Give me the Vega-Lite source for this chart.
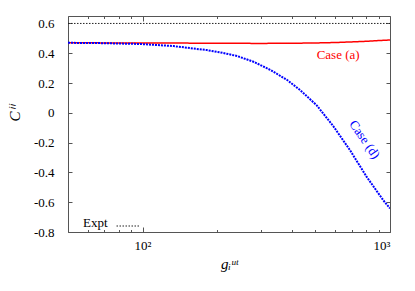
{
  "$schema": "https://vega.github.io/schema/vega-lite/v6.json",
  "width": 322,
  "height": 216,
  "autosize": {"type": "none"},
  "padding": {"left": 68, "top": 16, "right": 25, "bottom": 59},
  "background": "white",
  "config": {
    "view": {"stroke": "#555555", "strokeWidth": 1},
    "font": "Liberation Serif",
    "axis": {
      "domain": false,
      "grid": false,
      "tickColor": "#555555",
      "labelFont": "Liberation Serif",
      "labelFontSize": 13,
      "labelColor": "black",
      "titleFont": "Liberation Serif",
      "titleColor": "black",
      "titleFontWeight": "normal"
    }
  },
  "datasets": {
    "curves": [
      {"g": 50, "C": 0.6, "series": "Expt"},
      {"g": 1000, "C": 0.6, "series": "Expt"},
      {"g": 50, "C": 0.470, "series": "Case (a)"},
      {"g": 100, "C": 0.469, "series": "Case (a)"},
      {"g": 150, "C": 0.468, "series": "Case (a)"},
      {"g": 200, "C": 0.467, "series": "Case (a)"},
      {"g": 300, "C": 0.466, "series": "Case (a)"},
      {"g": 400, "C": 0.467, "series": "Case (a)"},
      {"g": 500, "C": 0.469, "series": "Case (a)"},
      {"g": 600, "C": 0.472, "series": "Case (a)"},
      {"g": 700, "C": 0.476, "series": "Case (a)"},
      {"g": 800, "C": 0.480, "series": "Case (a)"},
      {"g": 900, "C": 0.485, "series": "Case (a)"},
      {"g": 1000, "C": 0.489, "series": "Case (a)"},
      {"g": 50, "C": 0.470, "series": "Case (d)"},
      {"g": 67.5, "C": 0.468, "series": "Case (d)"},
      {"g": 97.9, "C": 0.462, "series": "Case (d)"},
      {"g": 133.4, "C": 0.448, "series": "Case (d)"},
      {"g": 182, "C": 0.421, "series": "Case (d)"},
      {"g": 206, "C": 0.406, "series": "Case (d)"},
      {"g": 240.5, "C": 0.382, "series": "Case (d)"},
      {"g": 280.7, "C": 0.343, "series": "Case (d)"},
      {"g": 327.7, "C": 0.289, "series": "Case (d)"},
      {"g": 382.8, "C": 0.222, "series": "Case (d)"},
      {"g": 433.2, "C": 0.153, "series": "Case (d)"},
      {"g": 505.9, "C": 0.050, "series": "Case (d)"},
      {"g": 590.4, "C": -0.090, "series": "Case (d)"},
      {"g": 689.4, "C": -0.251, "series": "Case (d)"},
      {"g": 805.1, "C": -0.430, "series": "Case (d)"},
      {"g": 939.6, "C": -0.587, "series": "Case (d)"},
      {"g": 1000, "C": -0.642, "series": "Case (d)"}
    ],
    "labels": [
      {"g": 617, "C": 0.388, "label": "Case (a)", "series": "Case (a)"},
      {"g": 789, "C": -0.18, "label": "Case (d)", "series": "Case (d)"}
    ]
  },
  "layer": [
    {
      "data": {"name": "curves"},
      "mark": {"type": "line", "clip": true},
      "encoding": {
        "x": {
          "field": "g",
          "type": "quantitative",
          "scale": {"type": "log", "domain": [50, 1000], "nice": false},
          "axis": {
            "orient": "bottom",
            "values": [50, 60, 70, 80, 90, 100, 200, 300, 400, 500, 600, 700, 800, 900, 1000],
            "labelExpr": "datum.value == 100 ? '10²' : datum.value == 1000 ? '10³' : ''",
            "tickSize": {"condition": {"test": "datum.value == 100 || datum.value == 1000", "value": -5}, "value": -2.5},
            "labelPadding": 12,
            "title": "gᵢᵘᵗ",
            "titleFontStyle": "italic",
            "titleFontSize": 15,
            "titlePadding": 4
          }
        },
        "y": {
          "field": "C",
          "type": "quantitative",
          "scale": {"domain": [-0.8, 0.65], "nice": false, "zero": false},
          "axis": {
            "orient": "left",
            "values": [-0.8, -0.6, -0.4, -0.2, 0, 0.2, 0.4, 0.6],
            "labelExpr": "toString(round(datum.value * 10) / 10)",
            "tickSize": -4,
            "labelPadding": 18,
            "title": "Cⁱⁱ",
            "titleFontStyle": "italic",
            "titleFontSize": 15,
            "titleX": -46,
            "titleY": 97
          }
        },
        "color": {
          "field": "series",
          "type": "nominal",
          "scale": {"domain": ["Expt", "Case (a)", "Case (d)"], "range": ["#222222", "#ff0000", "#0000ff"]},
          "legend": {
            "values": ["Expt"],
            "orient": "none",
            "legendX": 15,
            "legendY": 198,
            "title": "Expt",
            "titleOrient": "left",
            "titleFont": "Liberation Serif",
            "titleFontSize": 13,
            "titleFontWeight": "normal",
            "titleColor": "black",
            "titlePadding": 8,
            "labelExpr": "''",
            "labelOffset": 0,
            "symbolType": "stroke",
            "symbolSize": 529,
            "symbolDash": [1.5, 1.5],
            "symbolStrokeWidth": 1,
            "padding": 0
          }
        },
        "strokeDash": {
          "field": "series",
          "type": "nominal",
          "scale": {"domain": ["Expt", "Case (a)", "Case (d)"], "range": [[1.5, 1.5], [1, 0], [2, 1]]},
          "legend": null
        },
        "strokeWidth": {
          "field": "series",
          "type": "nominal",
          "scale": {"domain": ["Expt", "Case (a)", "Case (d)"], "range": [1, 2, 2]},
          "legend": null
        }
      }
    },
    {
      "data": {"name": "labels"},
      "transform": [{"filter": "datum.series == 'Case (a)'"}],
      "mark": {"type": "text", "color": "#ff0000", "fontSize": 13, "font": "Liberation Serif", "align": "center", "baseline": "middle"},
      "encoding": {
        "x": {
          "field": "g",
          "type": "quantitative",
          "axis": {
            "orient": "top",
            "values": [50, 60, 70, 80, 90, 100, 200, 300, 400, 500, 600, 700, 800, 900, 1000],
            "labels": false,
            "title": null,
            "tickSize": {"condition": {"test": "datum.value == 100 || datum.value == 1000", "value": -5}, "value": -2.5}
          }
        },
        "y": {
          "field": "C",
          "type": "quantitative",
          "axis": {
            "orient": "right",
            "values": [-0.8, -0.6, -0.4, -0.2, 0, 0.2, 0.4, 0.6],
            "labels": false,
            "title": null,
            "tickSize": -4
          }
        },
        "text": {"field": "label"}
      }
    },
    {
      "data": {"name": "labels"},
      "transform": [{"filter": "datum.series == 'Case (d)'"}],
      "mark": {"type": "text", "color": "#0000ff", "fontSize": 13, "font": "Liberation Serif", "align": "center", "baseline": "middle", "angle": 55},
      "encoding": {
        "x": {"field": "g", "type": "quantitative", "axis": null},
        "y": {"field": "C", "type": "quantitative", "axis": null},
        "text": {"field": "label"}
      }
    }
  ],
  "resolve": {"axis": {"x": "independent", "y": "independent"}}
}
